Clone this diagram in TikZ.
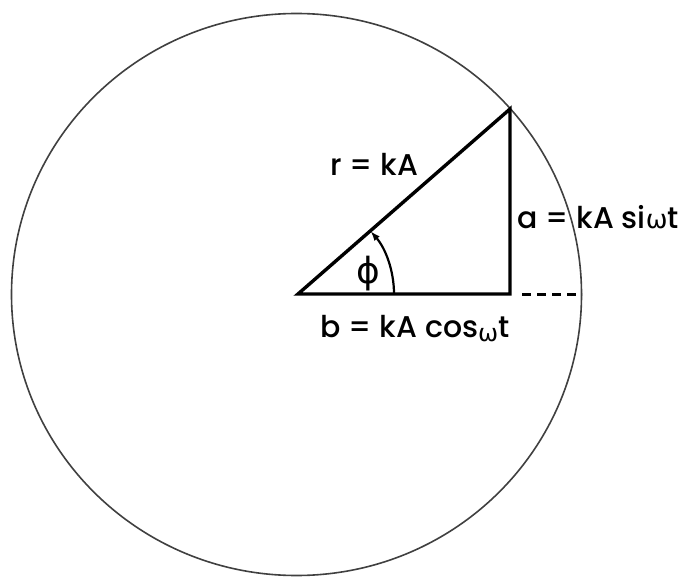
\documentclass[tikz,border=0pt]{standalone}
\usepackage{fontspec}
\setmainfont{Poppins}[UprightFont=* Medium]
\newfontfamily\grkfont{DejaVu Sans}
\usetikzlibrary{arrows.meta}

\begin{document}
\begin{tikzpicture}[x=1pt,y=1pt,
  lbl/.style={font=\fontsize{30}{34}\selectfont}]
  \useasboundingbox (0,0) rectangle (684,576);
  \coordinate (C) at (296.5,281.5);
  \draw[line width=1.6pt,black!75] (C) ellipse [x radius=285, y radius=281];
  \coordinate (O) at (298,282);
  \coordinate (P) at (510,282);
  \coordinate (Q) at (510,467);
  \coordinate (D) at (522,282);
  \coordinate (E) at (582,282);
  \coordinate (F) at (394,282);
  \draw[line width=3.4pt,line join=miter] (O) -- (Q) -- (P) -- cycle;
  \draw[line width=3pt,dash pattern=on 9pt off 6pt] (D) -- (E);
  \draw[line width=2.2pt,-{Latex[length=10pt,width=7pt]}] (F) arc[start angle=0,end angle=41,radius=96];
  \node[lbl] (r) at (374,412) {r = kA};
  \node[lbl] (a) at (598,359) {a = kA si{\grkfont\fontsize{26}{30}\selectfont ω}t};
  \node[lbl] (b) at (415,247) {b = kA cos{\grkfont\fontsize{24}{28}\selectfont\raisebox{-4pt}{ω}}t};
  \node[lbl,font=\grkfont\fontsize{36}{40}\selectfont] (phi) at (368,302) {ϕ};
\end{tikzpicture}
\end{document}
